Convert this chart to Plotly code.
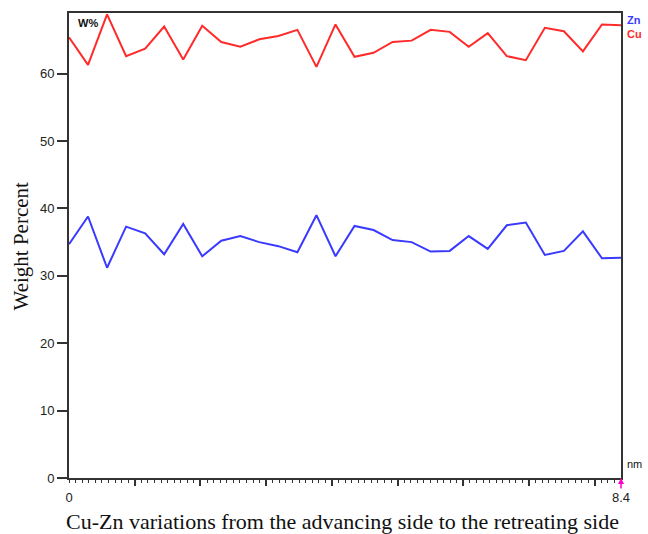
import plotly.graph_objects as go

n_points = 30
x_end = 8.4
positions = [i * x_end / (n_points - 1) for i in range(n_points)]

cu = [65.4, 61.3, 68.8, 62.6, 63.7, 67.0, 62.1, 67.1, 64.7, 64.0,
      65.1, 65.6, 66.5, 61.0, 67.3, 62.5, 63.1, 64.7, 64.9, 66.5,
      66.2, 64.0, 66.0, 62.6, 62.0, 66.8, 66.3, 63.3, 67.3, 67.2]
zn = [34.7, 38.8, 31.2, 37.3, 36.3, 33.2, 37.7, 32.9, 35.2, 35.9,
      35.0, 34.4, 33.5, 39.0, 32.9, 37.4, 36.8, 35.3, 35.0, 33.6,
      33.7, 35.9, 34.0, 37.5, 37.9, 33.1, 33.7, 36.6, 32.6, 32.7]

y_ticks = [0, 10, 20, 30, 40, 50, 60]
fine_ticks = [round(i * 0.1, 1) for i in range(85)]
fine_labels = ["0" if v == 0 else ("8.4" if v == 8.4 else "") for v in fine_ticks]
unit_ticks = [1, 2, 3, 4, 5, 6, 7, 8]

fig = go.Figure()
fig.add_trace(go.Scatter(x=positions, y=zn, mode="lines", name="Zn",
                         line=dict(color="#3a3aff", width=2)))
fig.add_trace(go.Scatter(x=positions, y=cu, mode="lines", name="Cu",
                         line=dict(color="#ff2a2a", width=2)))
fig.add_trace(go.Scatter(x=[0, x_end], y=[0, 0], xaxis="x2", mode="lines",
                         line=dict(width=0), hoverinfo="skip", showlegend=False))

axis_col = "#333333"
fig.update_layout(
    width=648, height=534,
    margin=dict(l=69, r=27, t=11, b=56),
    paper_bgcolor="white", plot_bgcolor="white",
    showlegend=False,
    font=dict(family="Arial, Liberation Sans, sans-serif", size=13, color="#222"),
    xaxis=dict(range=[0, x_end], tickmode="array", tickvals=fine_ticks, ticktext=fine_labels,
               ticks="outside", ticklen=3, tickwidth=1, tickcolor=axis_col,
               ticklabelstandoff=3,
               showline=True, linecolor=axis_col, linewidth=2, mirror=True,
               showgrid=False, zeroline=False, tickfont=dict(size=13)),
    xaxis2=dict(range=[0, x_end], overlaying="x", anchor="y", side="bottom",
                tickmode="array", tickvals=unit_ticks, showticklabels=False,
                ticks="outside", ticklen=7, tickwidth=1.5, tickcolor=axis_col,
                showline=False, showgrid=False, zeroline=False),
    yaxis=dict(range=[0, 69], tickvals=y_ticks,
               ticks="outside", ticklen=10, tickwidth=1.5, tickcolor=axis_col,
               showline=True, linecolor=axis_col, linewidth=2, mirror=True,
               showgrid=False, zeroline=False, tickfont=dict(size=13)),
)

fig.add_annotation(xref="paper", yref="paper", x=0.012, y=0.995, xanchor="left", yanchor="top",
                   text="<b>W%</b>", showarrow=False, font=dict(size=11, color="#111"))
fig.add_annotation(xref="paper", yref="paper", x=1.0, y=0.985, xanchor="left", yanchor="middle",
                   xshift=4, text="<b>Zn</b>", showarrow=False, font=dict(size=11, color="#3a3aff"))
fig.add_annotation(xref="paper", yref="paper", x=1.0, y=0.955, xanchor="left", yanchor="middle",
                   xshift=4, text="<b>Cu</b>", showarrow=False, font=dict(size=11, color="#ff2a2a"))
fig.add_annotation(xref="paper", yref="paper", x=1.0, y=0.0, xanchor="left", yanchor="bottom",
                   xshift=4, yshift=6, text="nm", showarrow=False, font=dict(size=11, color="#111"))
fig.add_annotation(x=x_end, y=0, ax=0, ay=12, text="", showarrow=True,
                   arrowhead=2, arrowsize=0.8, arrowwidth=1.5, arrowcolor="#ff00cc")
fig.add_annotation(xref="paper", yref="paper", x=-0.087, y=0.5, xanchor="center", yanchor="middle",
                   textangle=-90,
                   text="Weight Percent", showarrow=False,
                   font=dict(family="Liberation Serif, Times New Roman, serif", size=21, color="#111"))
fig.add_annotation(xref="paper", yref="paper", x=0.495, y=0.0, yshift=-43, xanchor="center",
                   yanchor="middle",
                   text="Cu-Zn variations from the advancing side to the retreating side",
                   showarrow=False,
                   font=dict(family="Liberation Serif, Times New Roman, serif", size=22, color="#111"))

fig.write_html("out.html", config={"displayModeBar": False},
               post_script="document.body.style.margin='0';document.body.style.overflow='hidden';")
